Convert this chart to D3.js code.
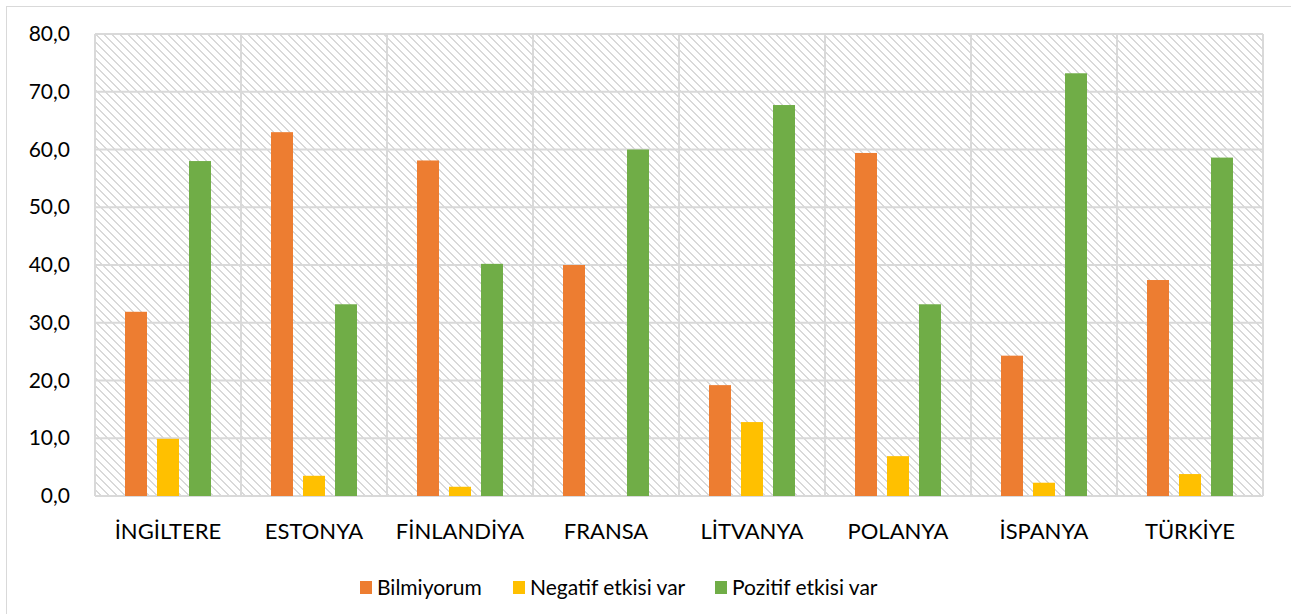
<!DOCTYPE html>
<html>
<head>
<meta charset="utf-8">
<script src="https://cdn.jsdelivr.net/npm/d3@7"></script>
<style>
  body { margin: 0; background: #fff; }
  text { font-family: Lato, "Open Sans", sans-serif; fill: #000; }
</style>
</head>
<body>
<div class="wrapper"></div>
<script>
// data
var countries = ["İNGİLTERE", "ESTONYA", "FİNLANDİYA", "FRANSA", "LİTVANYA", "POLANYA", "İSPANYA", "TÜRKİYE"];
var seriesNames = ["Bilmiyorum", "Negatif etkisi var", "Pozitif etkisi var"];
var bilmiyorum = [31.9, 63.0, 58.1, 40.0, 19.2, 59.4, 24.3, 37.4];
var negatif    = [9.9, 3.5, 1.6, 0.0, 12.8, 6.9, 2.3, 3.8];
var pozitif    = [58.0, 33.2, 40.2, 60.0, 67.7, 33.2, 73.2, 58.6];
var yTicks = [0, 10, 20, 30, 40, 50, 60, 70, 80];
var colors = ["#ED7D31", "#FFC000", "#70AD47"];

var w = 1291, h = 614;
var margin = {top: 34, right: 28, bottom: 118, left: 95};

var svg = d3.select(".wrapper").append("svg")
    .attr("width", w)
    .attr("height", h);

// hatch pattern (wide downward diagonal), kept light
var pat = svg.append("defs").append("pattern")
    .attr("id", "hatch")
    .attr("patternUnits", "userSpaceOnUse")
    .attr("width", 8).attr("height", 8);
pat.append("rect").attr("width", 8).attr("height", 8).attr("fill", "#fff");
d3.range(8).forEach(function(r) {
  [0, 1].forEach(function(k) {
    pat.append("rect")
      .attr("x", (r + k) % 8).attr("y", r)
      .attr("width", 1).attr("height", 1)
      .attr("fill", "#d9d9d9");
  });
});

// chart area border
svg.append("rect")
    .attr("x", 6.5).attr("y", 6.5)
    .attr("width", w).attr("height", h)
    .attr("fill", "none")
    .attr("stroke", "#d9d9d9");

var iw = w - margin.left - margin.right,
    ih = h - margin.top - margin.bottom;

var g = svg.append("g").attr("transform", "translate(" + margin.left + "," + margin.top + ")");

var x0 = d3.scaleBand().domain(countries).range([0, iw]);
var x1 = d3.scaleBand().domain(seriesNames).range([x0.bandwidth() / 2 - 48, x0.bandwidth() / 2 + 48]).paddingInner(10 / 32).paddingOuter(5 / 32);
var y = d3.scaleLinear().domain([0, 80]).range([ih, 0]);

g.append("rect")
    .attr("width", iw).attr("height", ih)
    .attr("fill", "url(#hatch)");

// grid
g.selectAll(".hgrid").data(yTicks).enter().append("line")
    .attr("x1", 0).attr("x2", iw)
    .attr("y1", function(d) { return y(d); })
    .attr("y2", function(d) { return y(d); })
    .attr("stroke", "#d9d9d9").attr("stroke-width", 2);

g.selectAll(".vgrid").data(d3.range(countries.length + 1)).enter().append("line")
    .attr("x1", function(d) { return d * x0.step(); })
    .attr("x2", function(d) { return d * x0.step(); })
    .attr("y1", 0).attr("y2", ih)
    .attr("stroke", "#d9d9d9").attr("stroke-width", 2);

// bars
var rows = countries.map(function(c, i) {
  return {c: c, vals: [bilmiyorum[i], negatif[i], pozitif[i]]};
});

var grp = g.selectAll(".grp").data(rows).enter().append("g")
    .attr("transform", function(d) { return "translate(" + x0(d.c) + ",0)"; });

grp.selectAll("rect").data(function(d) {
    return d.vals.map(function(v, j) { return {s: seriesNames[j], v: v, j: j}; });
  }).enter().append("rect")
    .attr("x", function(d) { return x1(d.s); })
    .attr("width", x1.bandwidth())
    .attr("y", function(d) { return y(d.v); })
    .attr("height", function(d) { return ih - y(d.v); })
    .attr("fill", function(d) { return colors[d.j]; });

// y axis labels
var fmt = function(d) { return d3.format(".1f")(d).replace(".", ","); };
var yAxis = g.append("g").call(d3.axisLeft(y).tickValues(yTicks).tickFormat(fmt).tickSize(0).tickPadding(25));
yAxis.select(".domain").remove();
yAxis.selectAll("text").style("font-size", "21px").style("font-family", "Lato, sans-serif").attr("fill", "#000");

// x axis labels
var xAxis = g.append("g").attr("transform", "translate(0," + ih + ")")
    .call(d3.axisBottom(x0).tickSize(0).tickPadding(27));
xAxis.select(".domain").remove();
xAxis.selectAll("text").style("font-size", "22px").style("font-family", "Lato, sans-serif").attr("fill", "#000");

// legend
var legX = [360, 513, 715];
var leg = svg.selectAll(".leg").data(seriesNames).enter().append("g")
    .attr("transform", function(d, i) { return "translate(" + legX[i] + ",581)"; });
leg.append("rect").attr("width", 12).attr("height", 13)
    .attr("fill", function(d, i) { return colors[i]; });
leg.append("text").attr("x", 17).attr("y", 14)
    .style("font-size", "21px")
    .text(function(d) { return d; });
</script>
</body>
</html>
